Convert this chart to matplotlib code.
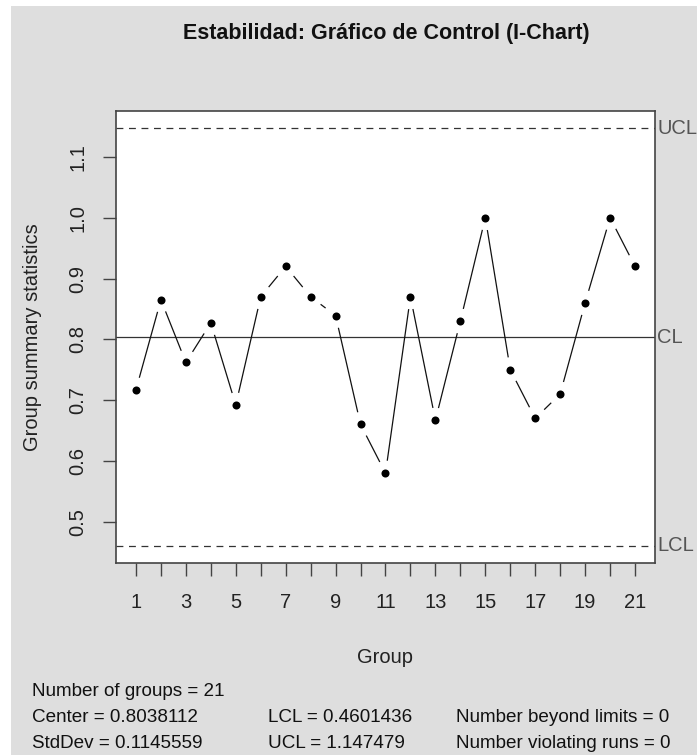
import matplotlib
matplotlib.use("Agg")
import matplotlib.pyplot as plt
import numpy as np
from matplotlib.patches import Rectangle

# Individual values per group
groups = list(range(1, 22))
values = [0.717, 0.865, 0.762, 0.827, 0.692, 0.870, 0.920, 0.870, 0.839, 0.660,
          0.580, 0.870, 0.667, 0.830, 1.000, 0.750, 0.670, 0.710, 0.860, 1.000, 0.920]

center = 0.8038112
std_dev = 0.1145559
lcl = 0.4601436
ucl = 1.147479
limit_labels = ["UCL", "CL", "LCL"]
x_tick_labels = [str(g) if g % 2 == 1 else "" for g in groups]
y_ticks = [0.5, 0.6, 0.7, 0.8, 0.9, 1.0, 1.1]

W, H = 697, 755
plt.rcParams["font.family"] = ["Liberation Sans", "DejaVu Sans"]

fig = plt.figure(figsize=(W / 100, H / 100), dpi=100, facecolor="white")
fig.patches.append(Rectangle((11 / W, 0), 1 - 11 / W, 1 - 6 / H,
                             transform=fig.transFigure, facecolor="#dedede",
                             edgecolor="none", zorder=-10))

ax = fig.add_axes([116 / W, 1 - 562.7 / H, (655 - 116) / W, (562.7 - 111.3) / H])
ax.set_facecolor("white")

# R-style 4% range extension
xr = max(groups) - min(groups)
ax.set_xlim(min(groups) - 0.04 * xr, max(groups) + 0.04 * xr)
lo, hi = min(min(values), lcl), max(max(values), ucl)
yr = hi - lo
ax.set_ylim(lo - 0.04 * yr, hi + 0.04 * yr)

line_col = "#333333"
ax.axhline(center, color=line_col, lw=0.9)
ax.axhline(ucl, color=line_col, lw=0.9, dashes=(5.5, 4.5))
ax.axhline(lcl, color=line_col, lw=0.9, dashes=(5.5, 4.5))

# type="b": segments with gaps around each point
gap = 12.5
pts = ax.transData.transform(np.column_stack([groups, values]))
inv = ax.transData.inverted()
for p0, p1 in zip(pts[:-1], pts[1:]):
    d = p1 - p0
    L = np.hypot(*d)
    if L <= 2 * gap:
        continue
    u = d / L
    a = inv.transform(p0 + u * gap)
    b = inv.transform(p1 - u * gap)
    ax.plot([a[0], b[0]], [a[1], b[1]], color="#111111", lw=0.9,
            solid_capstyle="butt")
ax.plot(groups, values, "o", color="black", ms=5.8, mec="black", mew=0)

for v, lab in zip([ucl, center, lcl], limit_labels):
    ax.text(1.004, v, lab, transform=ax.get_yaxis_transform(), ha="left",
            va="center", fontsize=14.5, color="#555555", clip_on=False)

for s in ax.spines.values():
    s.set_color("#444444")
    s.set_linewidth(1.2)

ax.set_xticks(groups)
ax.set_xticklabels(x_tick_labels)
ax.set_yticks(y_ticks)
ax.set_yticklabels([f"{t:.1f}" for t in y_ticks], rotation=90, va="center")
ax.tick_params(axis="both", length=9.4, width=1.0, color="#444444",
               labelsize=14.5, labelcolor="#222222")
ax.tick_params(axis="x", pad=12.5)
ax.tick_params(axis="y", pad=11)

ax.set_xlabel("Group", fontsize=14.5, color="#222222", labelpad=26)
ax.set_ylabel("Group summary statistics", fontsize=14.5, color="#222222",
              labelpad=19)

fig.text(386 / W, 1 - 39.3 / H, "Estabilidad: Gráfico de Control (I-Chart)",
         ha="center", va="baseline", fontsize=15.5, fontweight="bold",
         color="#111111")

stats_rows = [
    [(32, f"Number of groups = {len(groups)}")],
    [(32, f"Center = {center}"), (268, f"LCL = {lcl}"),
     (456, "Number beyond limits = 0")],
    [(32, f"StdDev = {std_dev}"), (268, f"UCL = {ucl}"),
     (456, "Number violating runs = 0")],
]
for row_y, row in zip([692, 718, 744], stats_rows):
    for x, txt in row:
        fig.text(x / W, 1 - row_y / H, txt, ha="left", va="center",
                 fontsize=13.6, color="#111111")

fig.savefig("out.png", dpi=100)
